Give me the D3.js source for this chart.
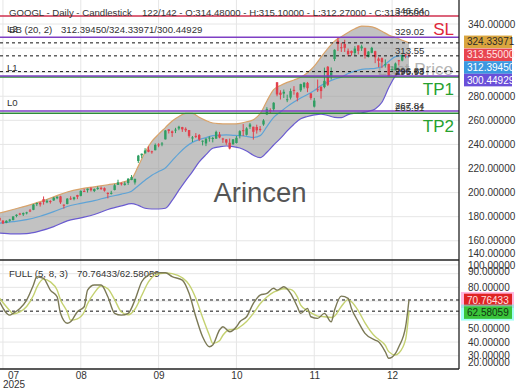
<!DOCTYPE html>
<html><head><meta charset="utf-8">
<script src="https://cdn.jsdelivr.net/npm/d3@7"></script>
<style>body{margin:0;background:#fff;} svg{display:block;font-family:"Liberation Sans",Arial,sans-serif;}</style>
</head><body><svg id="c" width="520" height="390"></svg>
<script>
// ---------- DATA ----------
const dates = ["07-03","07-07","07-08","07-09","07-10","07-11","07-14","07-15","07-16","07-17","07-18","07-21","07-22","07-23","07-24","07-25","07-28","07-29","07-30","07-31",
"08-01","08-04","08-05","08-06","08-07","08-08","08-11","08-12","08-13","08-14","08-15","08-18","08-19","08-20","08-21","08-22","08-25","08-26","08-27","08-28","08-29",
"09-02","09-03","09-04","09-05","09-08","09-09","09-10","09-11","09-12","09-15","09-16","09-17","09-18","09-19","09-22","09-23","09-24","09-25","09-26","09-29","09-30",
"10-01","10-02","10-03","10-06","10-07","10-08","10-09","10-10","10-13","10-14","10-15","10-16","10-17","10-20","10-21","10-22","10-23","10-24","10-27","10-28","10-29","10-30","10-31",
"11-03","11-04","11-05","11-06","11-07","11-10","11-11","11-12","11-13","11-14","11-17","11-18","11-19","11-20","11-21","11-24","11-25","11-26","11-28",
"12-01","12-02","12-03","12-04","12-05","12-08","12-09","12-10","12-11","12-12","12-15","12-16","12-17","12-18","12-19","12-22","12-23","12-24","12-26"];
const open = [178.5,179.0,176.7,174.9,176.6,177.2,180.6,182.6,181.9,182.8,185.2,185.7,190.4,191.6,194.6,191.9,193.0,193.5,195.3,196.9,
190.0,190.5,195.2,194.6,198.0,197.3,201.3,202.0,203.6,201.3,203.3,203.9,203.7,199.7,199.0,202.2,206.4,207.8,206.4,208.0,210.5,
208.4,226.2,231.0,232.6,235.6,234.3,235.2,240.0,240.2,244.2,252.5,250.9,251.6,253.2,254.4,253.0,251.9,245.2,247.1,247.8,242.8,
240.8,245.2,244.5,244.8,248.3,244.9,244.2,241.4,240.2,241.2,247.3,251.8,248.0,254.7,254.7,254.5,252.9,256.6,264.9,268.6,269.3,291.6,283.0,
282.2,276.8,278.9,285.3,282.9,284.9,287.6,291.1,282.3,271.4,285.8,287.9,287.6,304.5,296.4,310.9,326.2,320.7,323.4,
317.7,317.6,315.9,322.2,319.8,320.0,312.7,316.1,317.4,311.3,311.6,306.0,306.7,302.0,301.7,309.9,309.6,314.8,314.48];
const high = [179.7,179.8,177.2,177.0,178.2,180.4,182.0,183.2,183.5,184.1,186.4,190.6,191.8,192.2,196.8,194.3,193.7,196.4,197.0,197.4,
190.2,195.4,197.0,196.6,198.2,201.9,203.2,203.4,204.6,203.4,205.2,205.0,204.3,200.3,201.5,207.3,210.7,208.5,209.1,211.9,214.6,
211.6,231.3,232.4,236.9,238.4,234.8,240.8,241.0,242.0,252.0,252.6,251.6,253.8,255.5,254.6,254.2,252.0,247.0,249.4,248.6,243.3,
244.9,246.8,246.3,251.4,250.4,245.5,244.5,244.9,244.5,247.1,251.8,256.9,254.3,257.8,254.7,256.4,255.3,261.0,270.9,270.0,275.1,291.8,285.0,
285.6,281.3,286.4,288.4,283.5,290.4,291.7,291.9,282.7,278.6,293.9,288.2,303.8,305.1,303.9,319.0,328.8,324.5,326.9,
319.6,318.0,321.6,322.3,322.8,320.4,317.5,321.0,317.8,312.4,312.2,310.6,307.0,304.9,308.0,310.2,314.6,315.2,315.10];
const low = [177.4,176.2,173.9,174.6,175.8,176.9,179.5,181.2,180.6,181.9,183.8,185.4,188.8,188.4,190.0,191.2,190.9,193.1,194.5,190.6,
186.7,190.3,193.9,193.6,194.6,196.9,200.5,200.0,200.9,200.4,202.3,202.2,200.8,195.2,198.4,201.8,206.4,205.9,205.8,206.4,210.3,
206.7,224.6,228.6,232.4,233.5,232.3,235.1,237.7,238.5,244.1,249.1,246.3,249.4,251.8,250.4,250.3,245.7,242.0,245.3,242.8,239.2,
238.6,242.3,241.7,244.7,245.1,241.3,239.7,235.9,239.7,240.8,245.0,247.0,247.4,252.9,244.0,249.0,250.6,255.5,264.4,265.3,267.6,280.0,277.3,
278.6,275.1,277.3,281.3,275.8,283.6,286.4,283.4,277.1,270.7,283.6,278.0,286.6,288.5,293.9,309.2,317.6,316.8,316.8,
313.2,313.7,314.1,314.8,317.6,311.3,312.2,315.7,307.5,304.1,303.4,303.8,296.3,300.5,301.5,305.5,309.0,311.6,312.27];
const close = [179.5,176.8,174.4,176.6,177.6,180.2,181.6,182.0,183.0,183.6,185.1,190.1,191.3,190.2,192.2,193.2,192.6,195.8,196.5,191.9,
189.1,195.0,194.7,196.1,196.5,201.4,200.9,203.3,202.0,202.9,203.9,203.5,201.6,199.3,199.8,206.1,208.5,207.1,207.5,211.6,212.9,
211.4,230.7,232.3,235.0,233.9,234.0,239.6,239.2,240.8,251.6,251.2,249.5,252.3,254.7,252.5,251.7,247.1,245.8,246.5,244.1,243.1,
244.9,245.7,245.4,250.4,245.8,244.6,241.5,236.6,244.2,245.5,251.0,251.5,253.3,256.6,250.5,251.7,252.5,259.9,269.3,267.5,274.6,281.5,281.2,
283.7,277.5,284.3,284.8,278.8,290.1,291.3,286.7,278.6,276.4,285.0,284.3,292.8,289.5,299.7,318.6,323.4,319.9,320.2,
314.9,315.8,319.6,317.6,321.3,313.7,317.1,320.2,312.4,309.3,308.2,306.6,296.7,302.5,307.2,309.8,314.4,314.1,313.55];

// Bollinger bands (20,2) at these bar positions
const bbIdx = [1,5,9,13,17,21,25,29,33,37,40,42,44,46,48,50,52,54,56,58,60,62,64,66,68,70,72,74,76,78,80,82,84,86,88,90,92,94,96,98,100,102,104,106,108,110,112,114,116,118,120,122];
const bbUpper = [183.0,186.0,189.0,192.5,196.5,200.5,203.1,204.8,206.5,208.4,211.5,222.0,233.5,242.5,248.5,254.0,259.5,263.2,265.8,265.8,262.5,259.8,257.8,257.2,257.0,257.0,257.5,258.8,260.5,265.5,276.1,285.5,289.0,291.5,293.5,295.8,299.5,305.0,312.5,319.5,325.8,329.5,333.0,336.0,338.3,338.0,336.8,334.0,330.8,328.8,326.5,324.34];
const bbMid = [174.7,175.9,177.5,180.4,184.2,188.5,191.1,193.3,196.3,198.7,201.2,205.7,210.3,214.5,217.5,220.5,226.5,232.6,237.9,241.7,244.0,245.7,247.3,247.6,247.9,247.6,247.3,246.7,245.8,247.3,254.8,262.5,267.0,271.4,275.2,278.6,281.4,284.8,288.9,291.8,294.2,295.9,298.9,300.9,302.3,302.8,303.2,304.5,308.9,312.9,313.7,312.39];
const bbLower = [166.4,165.8,166.0,168.2,171.8,176.5,179.0,181.8,186.0,189.0,190.8,189.4,187.0,186.4,186.4,187.0,193.5,202.0,210.0,217.5,225.5,231.5,236.8,238.0,238.7,238.2,237.0,234.5,231.0,229.0,233.5,239.5,245.0,251.2,256.8,261.3,263.2,264.5,265.2,264.0,262.5,262.3,264.8,265.8,266.3,267.5,269.5,275.0,287.0,297.0,300.8,300.45];

// Full stochastic (5,8,3)
const stIdx = [1,4,5,7,9,11,12,14,16,18,19,21,22,24,26,27,29,31,33,35,37,39,41,43,45,47,50,52,55,57,59,61,63,64,66,67,69,71,72,74,76,78,80,82,83,85,87,89,90,92,93,95,97,99,100,102,104,105,107,109,112,113,115,116,118,119,121,122];
const stK = [69.5,59.7,61,64.6,70.7,81.7,87.8,86.6,78,73.1,61,53.7,54.8,62.2,65.8,78,81.7,81.7,73.1,61,59.7,61,70.7,84.1,89,90.7,90.7,87.8,85.3,75.6,58.5,43.9,36.6,37.8,48.8,51.2,47.5,51.2,54.8,58.5,68.3,74.4,75.6,79.3,78,80.4,75.6,65.8,61,64.6,58.5,57.3,61,54.8,63.4,73.6,72,64.6,54.8,46.3,41.4,40.2,32.9,28.1,31.7,36.6,51.2,70.76433];
const stD = [72,63,60.5,62,66,74,80,86,84,78,71,62,56,57,62,68,76,81,79,71,62,60,64,74,84,89,90.5,90,87,82,72,58,45,39,41,45,49,49.5,51,55,61,68,73,76.5,77.5,79,78.5,73,67,63,61.5,59,58.5,58,59,66,71,69.5,63,54,44,42,37.5,33,30.5,32,42,62.58059];

const priceTicks = [340,280,260,240,220,200,180,160,140];
const priceGrid = [140,160,180,200,220,240,260,280,300,320,340];
const stochTicks = [100,90,80,50,40,30,20];
const stochGrid = [30,40,50,60,70,80,90];
const monthTickIdx = [2,25,48,71,94,117];
const monthLabels = ["07","08","09","10","11","12"];
const yearLabel = "2025";

const slValue = 346.64, tpValues = [295.93, 265.91];
const levelValues = [329.02, 296.83, 267.84];
const levelNames = ["L2","L1","L0"];
const dashedValues = [324.34, 313.55, 300.45];
const bbLast = [312.39450, 324.33971, 300.44929];
const stLast = [70.76433, 62.58059];
const lastOHLC = [314.48, 315.10, 312.27, 313.55];

// ---------- LAYOUT ----------
const svg = d3.select("#c");
const R = 459, mainB = 260, stB = 369;
const x = d3.scaleLinear().domain([0,122]).range([-3.8,409]);
const y = d3.scaleLinear().domain([144.04,359.93]).range([mainB,0]);
const ys = d3.scaleLinear().domain([20,100]).range([369.4,260]);

const defs = svg.append("defs");
defs.append("clipPath").attr("id","cm").append("rect").attr("x",0).attr("y",0).attr("width",R).attr("height",mainB);
defs.append("clipPath").attr("id","cs").append("rect").attr("x",0).attr("y",mainB).attr("width",R).attr("height",stB-mainB);

// grid
const grid = svg.append("g").attr("stroke","#e6e6e6").attr("stroke-width",1);
monthTickIdx.forEach(i=>grid.append("line").attr("x1",x(i)).attr("x2",x(i)).attr("y1",0).attr("y2",stB));
priceGrid.forEach(v=>grid.append("line").attr("x1",0).attr("x2",R).attr("y1",y(v)).attr("y2",y(v)));
stochGrid.forEach(v=>grid.append("line").attr("x1",0).attr("x2",R).attr("y1",ys(v)).attr("y2",ys(v)));

const gm = svg.append("g").attr("clip-path","url(#cm)");
// Last Price watermark
gm.append("text").attr("x",453).attr("y",75).attr("text-anchor","end").attr("font-size",17).attr("fill","#b4b4b4").text("Last Price");

// BB
const bbI = d3.range(bbIdx.length);
gm.append("path").datum(bbI).attr("fill","#9a9a9a").attr("fill-opacity",0.6)
  .attr("d", d3.area().x(i=>x(bbIdx[i])).y0(i=>y(bbLower[i])).y1(i=>y(bbUpper[i])).curve(d3.curveMonotoneX));
const bbLine = arr => d3.line().x(i=>x(bbIdx[i])).y(i=>y(arr[i])).curve(d3.curveMonotoneX);
gm.append("path").datum(bbI).attr("fill","none").attr("stroke","#d9a36a").attr("stroke-width",1.2).attr("d",bbLine(bbUpper));
gm.append("path").datum(bbI).attr("fill","none").attr("stroke","#6a5bd0").attr("stroke-width",1.2).attr("d",bbLine(bbLower));
gm.append("path").datum(bbI).attr("fill","none").attr("stroke","#5ea3d6").attr("stroke-width",1.2).attr("d",bbLine(bbMid));

// candles
const idx = d3.range(close.length);
const up = "#2f9e62", dn = "#e2404c";
const cg = gm.append("g");
cg.selectAll("line").data(idx).join("line")
  .attr("x1",i=>x(i)).attr("x2",i=>x(i)).attr("y1",i=>y(high[i])).attr("y2",i=>y(low[i]))
  .attr("stroke",i=>close[i]>=open[i]?up:dn).attr("stroke-width",1);
cg.selectAll("rect").data(idx).join("rect")
  .attr("x",i=>x(i)-1.2).attr("width",2.4)
  .attr("y",i=>y(Math.max(open[i],close[i])))
  .attr("height",i=>Math.max(1,Math.abs(y(open[i])-y(close[i]))))
  .attr("fill",i=>close[i]>=open[i]?up:dn);

// level lines
const hline = (v,color,dash,w) => gm.append("line").attr("x1",0).attr("x2",R).attr("y1",y(v)).attr("y2",y(v))
  .attr("stroke",color).attr("stroke-width",w).attr("stroke-dasharray",dash||null);
dashedValues.forEach(v=>hline(v,"#111","3,3",1));
hline(slValue,"#d0304f",null,1.5);
tpValues.forEach(v=>hline(v,"#2e8b3a",null,1.5));
levelValues.forEach(v=>hline(v,"#7e3fc4",null,1.5));

// level texts
const lt = svg.append("g").attr("font-size",9.6).attr("fill","#333");
[slValue, ...levelValues, ...tpValues, 313.55].forEach(v=>{
  lt.append("text").attr("x",395).attr("y",y(v)-2).text(v.toFixed(2));
});
levelNames.forEach((n,i)=>lt.append("text").attr("x",7).attr("y",y(levelValues[i])-5).text(n));
svg.append("text").attr("x",454).attr("y",y(slValue)+19).attr("text-anchor","end").attr("font-size",17).attr("fill","#e0283a").text("SL");
svg.append("text").attr("x",454).attr("y",y(tpValues[0])+18).attr("text-anchor","end").attr("font-size",17).attr("fill","#27a12f").text("TP1");
svg.append("text").attr("x",454).attr("y",y(tpValues[1])+19).attr("text-anchor","end").attr("font-size",17).attr("fill","#27a12f").text("TP2");

// watermark
svg.append("text").attr("x",260).attr("y",202).attr("text-anchor","middle").attr("font-size",27.5).attr("fill","#555").text("Arincen");

// header texts
const ht = svg.append("g").attr("font-size",9.6).attr("fill","#333");
ht.append("text").attr("x",9).attr("y",15.5).text("GOOGL - Daily - Candlestick");
ht.append("text").attr("x",142).attr("y",15.5).text(`122/142 - O:${lastOHLC[0].toFixed(5)} - H:${lastOHLC[1].toFixed(5)} - L:${lastOHLC[2].toFixed(5)} - C:${lastOHLC[3].toFixed(5)}`);
ht.append("text").attr("x",9).attr("y",32.5).text("BB (20, 2)");
ht.append("text").attr("x",61).attr("y",32.5).text(bbLast.map(d=>d.toFixed(5)).join("/"));
ht.append("text").attr("x",9).attr("y",276.5).text("FULL (5, 8, 3)");
ht.append("text").attr("x",77).attr("y",276.5).text(stLast.map(d=>d.toFixed(5)).join("/"));

// stochastic
const gs = svg.append("g").attr("clip-path","url(#cs)");
stLast.forEach(v=>gs.append("line").attr("x1",0).attr("x2",R).attr("y1",ys(v)).attr("y2",ys(v)).attr("stroke","#111").attr("stroke-dasharray","3,3"));
const stI = d3.range(stIdx.length);
gs.append("path").datum(stI).attr("fill","none").attr("stroke","#c4d170").attr("stroke-width",1.4)
  .attr("d", d3.line().x(i=>x(stIdx[i])).y(i=>ys(stD[i])).curve(d3.curveMonotoneX));
gs.append("path").datum(stI).attr("fill","none").attr("stroke","#7b7956").attr("stroke-width",1.4)
  .attr("d", d3.line().x(i=>x(stIdx[i])).y(i=>ys(stK[i])).curve(d3.curveMonotoneX));

// frame lines
svg.append("line").attr("x1",R).attr("x2",R).attr("y1",0).attr("y2",stB).attr("stroke","#222").attr("stroke-width",1.3);
svg.append("line").attr("x1",0).attr("x2",R).attr("y1",mainB).attr("y2",mainB).attr("stroke","#222").attr("stroke-width",1.3);
svg.append("line").attr("x1",0).attr("x2",R).attr("y1",stB).attr("y2",stB).attr("stroke","#222").attr("stroke-width",1.3);

// right axes
const ax = svg.append("g").attr("transform",`translate(${R},0)`)
  .call(d3.axisRight(y).tickValues(priceTicks).tickFormat(d3.format(".5f")).tickSize(0).tickPadding(9));
ax.select(".domain").remove();
ax.selectAll("text").attr("font-size",10).attr("fill","#333").attr("font-family","Liberation Sans, Arial, sans-serif")
  .each(function(d){ const yy=y(d); if(yy>253) d3.select(this).attr("y",253-yy); });
const axs = svg.append("g").attr("transform",`translate(${R},0)`)
  .call(d3.axisRight(ys).tickValues(stochTicks).tickFormat(d3.format(".5f")).tickSize(0).tickPadding(9));
axs.select(".domain").remove();
axs.selectAll("text").attr("font-size",10).attr("fill","#333").attr("font-family","Liberation Sans, Arial, sans-serif")
  .each(function(d){ const yy=ys(d); const t=d===90?271:Math.min(Math.max(yy,265.5),362.5); d3.select(this).attr("y",t-yy); });

// badges
function badge(cy, text, bg, fg, border){
  const g = svg.append("g");
  if(border) g.append("rect").attr("x",R+2).attr("y",cy-8).attr("width",53).attr("height",16).attr("fill",border).attr("opacity",0.6);
  g.append("rect").attr("x",R+5).attr("y",cy-6.3).attr("width",48).attr("height",12.6).attr("fill",bg);
  g.append("text").attr("x",R+8).attr("y",cy+3.6).attr("font-size",10).attr("fill",fg).text(text);
}
const bvals = [[bbLast[1],"#d9a53e","#2a2a2a"],[lastOHLC[3],"#e8454f","#ffe4e4"],[bbLast[0],"#3b98e0","#fff"],[bbLast[2],"#6a4fd9","#fff"]];
let prev = -100;
bvals.forEach(([v,bg,fg])=>{ let cy=Math.max(y(v)-1,prev+12.6); prev=cy; badge(cy,v.toFixed(5),bg,fg); });
let sp = -100;
[[stLast[0],"#e02424","#ffe0e0","#ff88cc"],[stLast[1],"#39c43a","#113311","#66ffee"]].forEach(([v,bg,fg,bd])=>{
  let cy=Math.max(ys(v),sp+12.6); sp=cy; badge(cy,v.toFixed(5),bg,fg,bd);
});

// bottom axis
const axb = svg.append("g").attr("transform",`translate(0,${stB})`)
  .call(d3.axisBottom(x).tickValues(monthTickIdx).tickFormat((d,i)=>monthLabels[i]).tickSize(0).tickPadding(3));
axb.select(".domain").remove();
axb.selectAll("text").attr("font-size",10).attr("fill","#333").attr("font-family","Liberation Sans, Arial, sans-serif")
  .each(function(d){ const xx=x(d); if(xx<13) d3.select(this).attr("x",13-xx); });
svg.append("text").attr("x",14).attr("y",388).attr("text-anchor","middle").attr("font-size",10).attr("fill","#333").text(yearLabel);
</script></body></html>
